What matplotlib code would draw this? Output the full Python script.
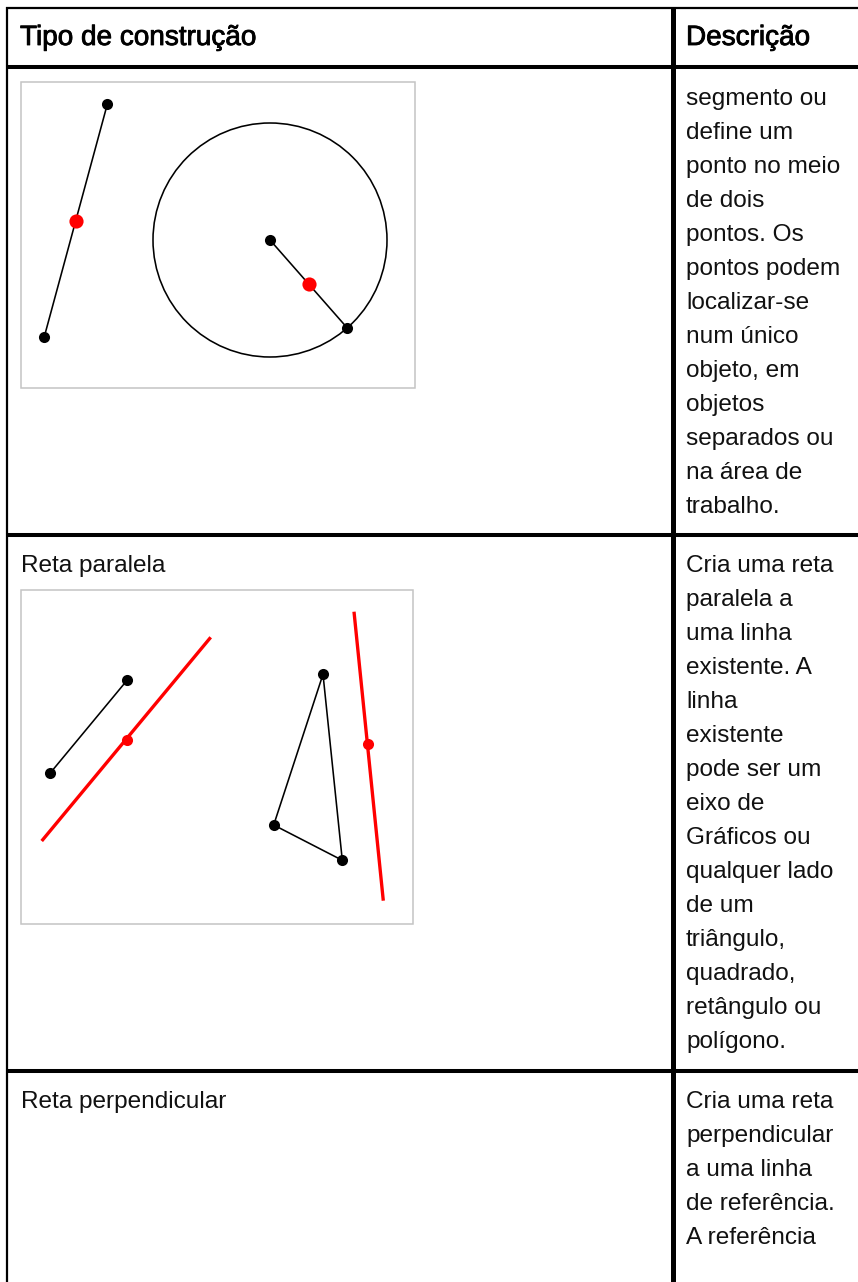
import matplotlib
matplotlib.use('Agg')
import matplotlib.pyplot as plt
import matplotlib.patheffects as pe
from matplotlib.patches import Circle, Rectangle

#Text of the table
header_left = 'Tipo de construção'
header_right = 'Descrição'
row_titles = ['Reta paralela', 'Reta perpendicular']
desc_1 = ['segmento ou', 'define um', 'ponto no meio', 'de dois', 'pontos. Os', 'pontos podem',
          'localizar-se', 'num único', 'objeto, em', 'objetos', 'separados ou', 'na área de', 'trabalho.']
desc_2 = ['Cria uma reta', 'paralela a', 'uma linha', 'existente. A', 'linha', 'existente',
          'pode ser um', 'eixo de', 'Gráficos ou', 'qualquer lado', 'de um', 'triângulo,',
          'quadrado,', 'retângulo ou', 'polígono.']
desc_3 = ['Cria uma reta', 'perpendicular', 'a uma linha', 'de referência.', 'A referência']

#Geometry of the two drawings, read in picture pixels
seg_1x = [107.3, 44.3]
seg_1y = [104.3, 336.7]
mid_1x = [76, 309]
mid_1y = [221, 284]
circ_c = (270, 240)
circ_r = 117
rad_x = [270, 347.3]
rad_y = [240, 328]

seg_2x = [127.3, 50]
seg_2y = [680, 773.3]
par_1x = [41.7, 210.7]
par_1y = [841, 637.3]
tri_x = [323, 273.7, 342.3, 323]
tri_y = [674.3, 825, 860.3, 674.3]
par_2x = [354, 383.3]
par_2y = [611.7, 900.7]
mid_2x = [126.7, 367.7]
mid_2y = [739.7, 743.7]

fig = plt.figure(figsize=(8.58, 12.82), dpi=100)
ax = fig.add_axes([0, 0, 1, 1])
ax.set_xlim(0, 858)
ax.set_ylim(1282, 0)
ax.axis('off')

plt.rcParams['font.family'] = ['Liberation Sans', 'DejaVu Sans']

#table rules
ax.hlines(8, 6, 858, color='black', lw=1.6)
ax.hlines(67, 6, 858, color='black', lw=2.9)
ax.hlines(535, 6, 858, color='black', lw=2.9)
ax.hlines(1071, 6, 858, color='black', lw=2.9)
ax.vlines(6.8, 7, 1282, color='black', lw=1.6)
ax.vlines(672.5, 7, 1282, color='black', lw=3.6)

#picture frames
ax.add_patch(Rectangle((21, 82), 394, 306, fc='white', ec='#c4c4c4', lw=1.1))
ax.add_patch(Rectangle((21, 590), 392, 334, fc='white', ec='#c4c4c4', lw=1.1))

#first drawing
ax.plot(seg_1x, seg_1y, color='black', lw=1.15)
ax.plot(rad_x, rad_y, color='black', lw=1.15)
ax.add_patch(Circle(circ_c, circ_r, fc='none', ec='black', lw=1.15))
ax.plot(seg_1x, seg_1y, 'o', color='black', ms=8.0, mew=0, snap=False)
ax.plot(rad_x, rad_y, 'o', color='black', ms=8.0, mew=0, snap=False)
ax.plot(mid_1x, mid_1y, 'o', color='#ff0000', ms=10.2, mew=0, snap=False)

#second drawing
ax.plot(seg_2x, seg_2y, color='black', lw=1.15)
ax.plot(tri_x, tri_y, color='black', lw=1.15)
ax.plot(par_1x, par_1y, color='#ff0000', lw=2.4, solid_capstyle='butt')
ax.plot(par_2x, par_2y, color='#ff0000', lw=2.4, solid_capstyle='butt')
ax.plot(seg_2x, seg_2y, 'o', color='black', ms=8.0, mew=0, snap=False)
ax.plot(tri_x[:3], tri_y[:3], 'o', color='black', ms=8.0, mew=0, snap=False)
ax.plot(mid_2x, mid_2y, 'o', color='#ff0000', ms=8.0, mew=0, snap=False)

#text
bold = [pe.withStroke(linewidth=0.6, foreground='black')]
ax.text(20, 45, header_left, fontsize=20.1, color='black', va='baseline', path_effects=bold)
ax.text(686, 45, header_right, fontsize=20.1, color='black', va='baseline', path_effects=bold)

ax.text(21, 572, row_titles[0], fontsize=17.55, color='#111111', va='baseline')
ax.text(21, 1108, row_titles[1], fontsize=17.55, color='#111111', va='baseline')

for lines, start in [(desc_1, 105), (desc_2, 572), (desc_3, 1108)]:
    for i, line in enumerate(lines):
        ax.text(686, start + i * 34, line, fontsize=17.55, color='#111111', va='baseline')

fig.savefig('out.png', dpi=100)
